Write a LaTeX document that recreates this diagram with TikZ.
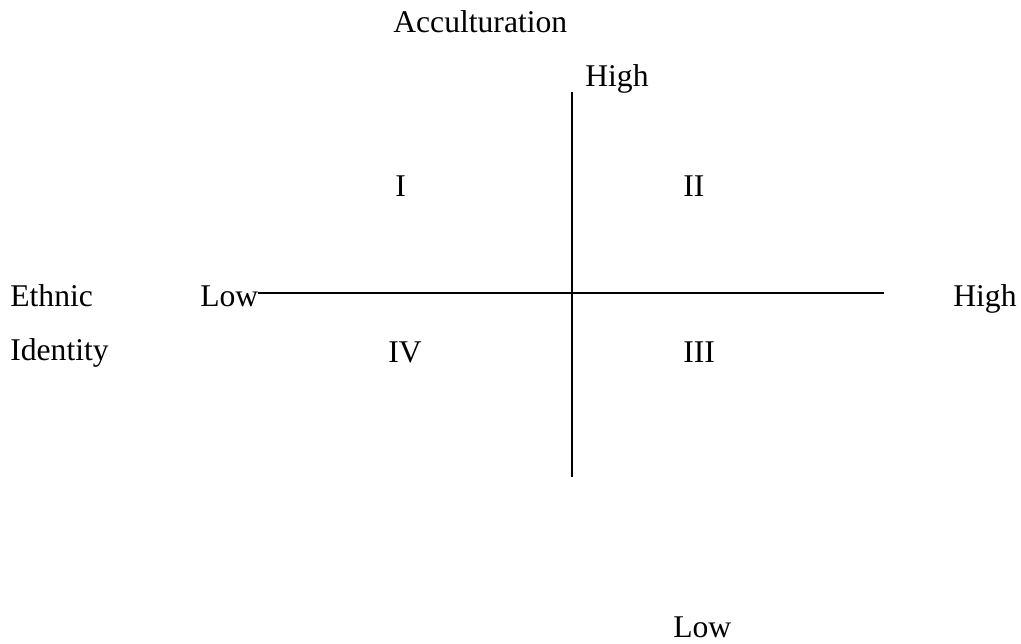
\documentclass[tikz,border=0pt]{standalone}
\usepackage{fontspec}
\setmainfont{Liberation Serif}
\usepackage{tikz}
\usetikzlibrary{positioning, calc}

\begin{document}
\begin{tikzpicture}[
  x=0.02cm, y=-0.02cm,
  lbl/.style={font=\fontsize{18}{22}\selectfont, inner sep=0pt, anchor=base west},
  axis/.style={draw, line width=1.1pt}
]
  \useasboundingbox (0,0) rectangle (1021,643);

  % Axis titles
  \node[lbl] (acc) at (393, 32) {Acculturation};
  \node[lbl] (ethnic) at (10, 306) {Ethnic};
  \node[lbl] (identity) at (10, 360) {Identity};

  % End labels
  \node[lbl] (hightop) at (585, 86) {High};
  \node[lbl] (lowbot) at (673, 637) {Low};
  \node[lbl] (lowleft) at (200, 306) {Low};
  \node[lbl] (highright) at (953, 306) {High};

  % Axes
  \coordinate (hstart) at (258, 293);
  \coordinate (hend) at (884, 293);
  \coordinate (vstart) at (572, 92);
  \coordinate (vend) at (572, 477);
  \draw[axis] (hstart) -- (hend);
  \draw[axis] (vstart) -- (vend);

  % Quadrants
  \node[lbl] (q1) at (395, 196) {I};
  \node[lbl] (q2) at (683, 196) {II};
  \node[lbl] (q3) at (683, 362) {III};
  \node[lbl] (q4) at (388, 362) {IV};
\end{tikzpicture}
\end{document}
